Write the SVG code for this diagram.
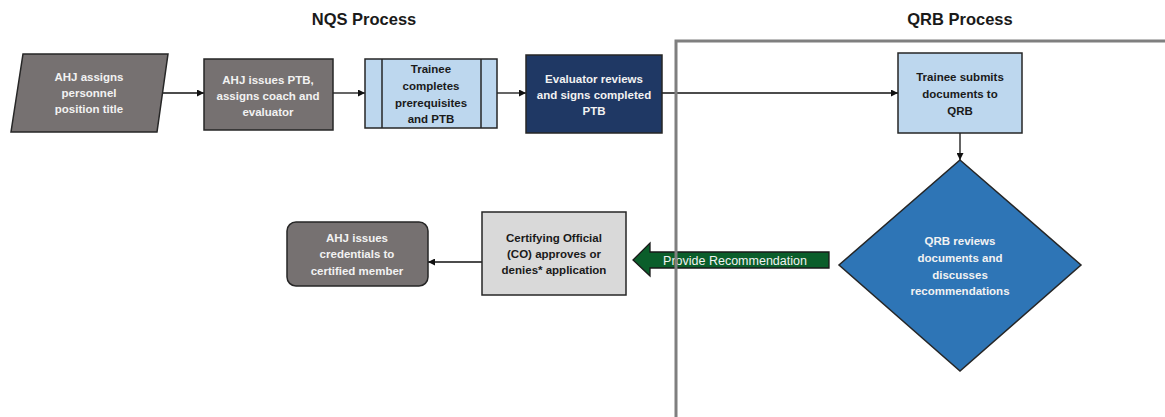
<svg xmlns="http://www.w3.org/2000/svg" width="1165" height="417" viewBox="0 0 1165 417">
<style>
.t{font-family:"Liberation Sans",Arial,sans-serif;font-weight:bold;font-size:11.5px;text-anchor:middle}
.w{fill:#f2f2f2}
.d{fill:#1a1a1a}
.title{font-family:"Liberation Sans",Arial,sans-serif;font-weight:bold;font-size:16.5px;fill:#1a1a1a;text-anchor:middle}
.nd{stroke:#262626;stroke-width:1.5}
.gray{fill:#767171}
.lb{fill:#BDD7EE}
.cn{stroke:#111;stroke-width:1.3;fill:none;marker-end:url(#ah)}
</style>
<defs>
<marker id="ah" viewBox="0 0 10 10" refX="10" refY="5" markerWidth="7" markerHeight="7" markerUnits="userSpaceOnUse" orient="auto">
<path d="M0,0 L10,5 L0,10 z" fill="#111"/>
</marker>
</defs>
<rect width="1165" height="417" fill="#ffffff"/>
<text class="title" x="364" y="25">NQS Process</text>
<text class="title" x="960" y="25">QRB Process</text>
<g id="connectors">
<path class="cn" d="M163,93 H204"/>
<path class="cn" d="M333,93 H365"/>
<path class="cn" d="M497,93 H526"/>
<path class="cn" d="M662,93 H898"/>
<path class="cn" d="M960,133 V160"/>
<path class="cn" d="M482,262 H428"/>
</g>
<g id="n1">
<polygon class="nd gray" points="23,54 168,54 157,132 11,132"/>
<text class="t w" x="89" y="81">AHJ assigns</text>
<text class="t w" x="89" y="97">personnel</text>
<text class="t w" x="89" y="113">position title</text>
</g>
<g id="n2">
<rect class="nd gray" x="204" y="59" width="129" height="71"/>
<text class="t w" x="268" y="84">AHJ issues PTB,</text>
<text class="t w" x="268" y="100">assigns coach and</text>
<text class="t w" x="268" y="116">evaluator</text>
</g>
<g id="n3">
<rect class="nd lb" x="365" y="59" width="132" height="69"/>
<line class="nd" x1="382" y1="59" x2="382" y2="128"/>
<line class="nd" x1="481" y1="59" x2="481" y2="128"/>
<text class="t d" x="431" y="73">Trainee</text>
<text class="t d" x="431" y="90">completes</text>
<text class="t d" x="431" y="107">prerequisites</text>
<text class="t d" x="431" y="123">and PTB</text>
</g>
<g id="n4">
<rect class="nd" fill="#1F3864" x="526" y="55" width="136" height="78"/>
<text class="t w" x="594" y="83">Evaluator reviews</text>
<text class="t w" x="594" y="99">and signs completed</text>
<text class="t w" x="594" y="115">PTB</text>
</g>
<g id="n5">
<rect class="nd lb" x="898" y="53" width="124" height="80"/>
<text class="t d" x="960" y="81">Trainee submits</text>
<text class="t d" x="960" y="98">documents to</text>
<text class="t d" x="960" y="115">QRB</text>
</g>
<g id="n6">
<polygon class="nd" fill="#2E75B6" points="960,160 1081,265 960,371 839,265"/>
<text class="t w" x="960" y="245">QRB reviews</text>
<text class="t w" x="960" y="262">documents and</text>
<text class="t w" x="960" y="279">discusses</text>
<text class="t w" x="960" y="295">recommendations</text>
</g>
<g id="n7">
<path d="M633,260 L650,243 L650,252 L829,252 L829,268 L650,268 L650,276 Z" fill="#0B5E2B" stroke="#1a1a1a" stroke-width="1.3"/>
<text x="735" y="264.5" font-family="'Liberation Sans',Arial,sans-serif" font-size="12.5px" fill="#f2f2f2" text-anchor="middle">Provide Recommendation</text>
</g>
<g id="n8">
<rect class="nd" fill="#D9D9D9" x="482" y="212" width="144" height="83"/>
<text class="t d" x="554" y="242">Certifying Official</text>
<text class="t d" x="554" y="258">(CO) approves or</text>
<text class="t d" x="554" y="274">denies* application</text>
</g>
<g id="n9">
<rect class="nd gray" x="287" y="222" width="141" height="64" rx="9"/>
<text class="t w" x="357" y="242">AHJ issues</text>
<text class="t w" x="357" y="258">credentials to</text>
<text class="t w" x="357" y="275">certified member</text>
</g>
<path id="lane" d="M676,417 V41 H1165" fill="none" stroke="#7f7f7f" stroke-width="3"/>
</svg>
